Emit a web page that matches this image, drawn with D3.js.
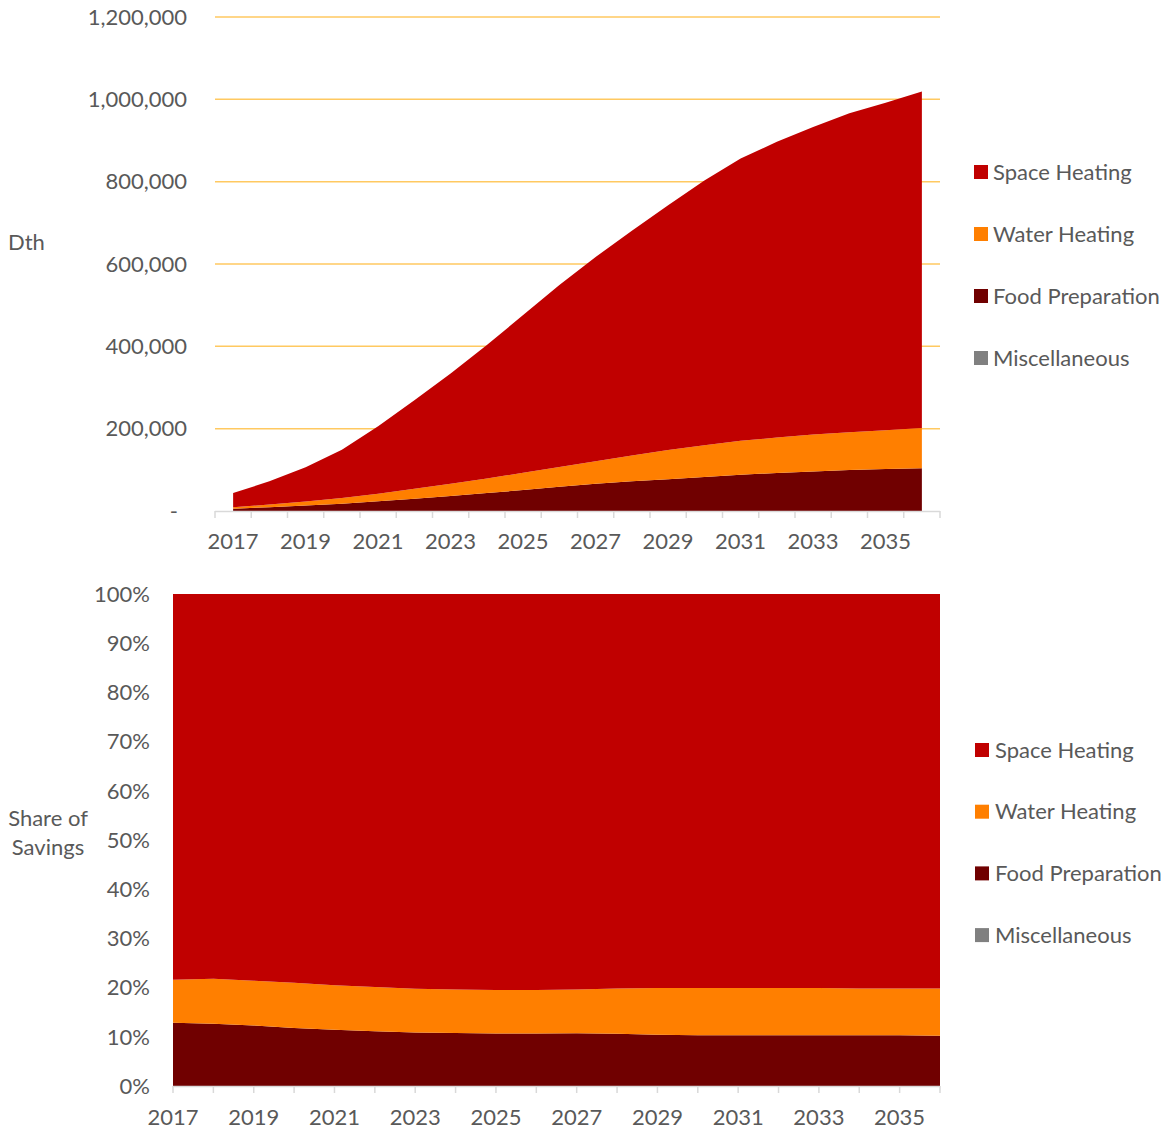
<!DOCTYPE html>
<html>
<head>
<meta charset="utf-8">
<script src="https://cdn.jsdelivr.net/npm/d3@7"></script>
<style>
  html, body { margin: 0; padding: 0; background: #ffffff; }
  svg text { font-family: Lato, "Open Sans", sans-serif; fill: #595959; }
</style>
</head>
<body>
<svg id="chart" width="1170" height="1130"></svg>
<script>
// ---- data ----
const years = ["2017","2018","2019","2020","2021","2022","2023","2024","2025","2026",
               "2027","2028","2029","2030","2031","2032","2033","2034","2035","2036"];
const foodPreparation = [5600, 9100, 13100, 17600, 23500, 29900, 36400, 43500, 50900, 58700,
                         66000, 72200, 77300, 82700, 88200, 92400, 96100, 99500, 102200, 103900];
const waterHeating    = [3800, 6600, 9700, 13700, 18700, 24200, 29700, 35500, 41900, 48300,
                         54900, 62700, 70600, 77100, 82200, 86100, 89600, 91800, 94200, 97800];
const spaceHeating    = [34100, 56300, 83700, 117700, 163800, 214900, 267900, 324000, 383200, 442000,
                         496100, 546100, 595100, 643200, 685600, 718500, 747300, 774700, 795600, 817300];
const miscellaneous   = [0, 0, 0, 0, 0, 0, 0, 0, 0, 0, 0, 0, 0, 0, 0, 0, 0, 0, 0, 0];

const seriesNames = ["Space Heating", "Water Heating", "Food Preparation", "Miscellaneous"];
const stackKeys = ["Food Preparation", "Water Heating", "Space Heating", "Miscellaneous"];
const yTicksTop = [0, 200000, 400000, 600000, 800000, 1000000, 1200000];
const yTicksBottom = [0, 0.1, 0.2, 0.3, 0.4, 0.5, 0.6, 0.7, 0.8, 0.9, 1.0];
const labelYears = ["2017","2019","2021","2023","2025","2027","2029","2031","2033","2035"];

const colors = {
  "Space Heating": "#C00000",
  "Water Heating": "#FF7F00",
  "Food Preparation": "#700000",
  "Miscellaneous": "#808080"
};

const table = years.map((y, i) => ({
  year: y,
  "Food Preparation": foodPreparation[i],
  "Water Heating": waterHeating[i],
  "Space Heating": spaceHeating[i],
  "Miscellaneous": miscellaneous[i]
}));

const svg = d3.select("#chart");
const FS = 22;
const axisColor = "#d9d9d9";

// ================= TOP CHART =================
const T = { left: 215, right: 940, top: 17, bottom: 511 };
const xTop = d3.scaleBand().domain(years).range([T.left, T.right]).paddingInner(0).paddingOuter(0);
const yTop = d3.scaleLinear().domain([0, 1200000]).range([T.bottom, T.top]);

const gTop = svg.append("g");
gTop.selectAll("line.grid").data(yTicksTop.filter(d => d > 0)).enter().append("line")
  .attr("x1", T.left).attr("x2", T.right)
  .attr("y1", d => yTop(d)).attr("y2", d => yTop(d))
  .attr("stroke", "#FFC961").attr("stroke-width", 1.5);

const stackTop = d3.stack().keys(stackKeys)(table);
const areaTop = d3.area()
  .x(d => xTop(d.data.year) + xTop.bandwidth() / 2)
  .y0(d => yTop(d[0])).y1(d => yTop(d[1]));
gTop.selectAll("path.layer").data(stackTop).enter().append("path")
  .attr("d", areaTop).attr("fill", d => colors[d.key]);

gTop.append("line").attr("x1", T.left).attr("x2", T.right)
  .attr("y1", T.bottom + 0.5).attr("y2", T.bottom + 0.5)
  .attr("stroke", axisColor).attr("stroke-width", 1.5);
const boundaries = years.map(y => xTop(y)).concat([T.right]);
gTop.selectAll("line.tick").data(boundaries).enter().append("line")
  .attr("x1", d => d).attr("x2", d => d)
  .attr("y1", T.bottom).attr("y2", T.bottom + 7)
  .attr("stroke", axisColor).attr("stroke-width", 1.5);
gTop.selectAll("text.xl").data(labelYears).enter().append("text")
  .attr("x", d => xTop(d) + xTop.bandwidth() / 2)
  .attr("y", 541).attr("dy", "0.35em")
  .attr("text-anchor", "middle").attr("font-size", FS)
  .text(d => d);
gTop.selectAll("text.yl").data(yTicksTop).enter().append("text")
  .attr("x", d => d === 0 ? 178 : 187)
  .attr("y", d => yTop(d)).attr("dy", "0.35em")
  .attr("text-anchor", "end").attr("font-size", FS)
  .text(d => d === 0 ? "-" : d3.format(",")(d));
gTop.append("text").attr("x", 8).attr("y", 242).attr("dy", "0.35em")
  .attr("font-size", FS).text("Dth");

const legTop = gTop.selectAll("g.leg").data(seriesNames).enter().append("g")
  .attr("transform", (d, i) => `translate(974, ${172 + i * 62})`);
legTop.append("rect").attr("x", 0).attr("y", -7).attr("width", 14).attr("height", 14)
  .attr("fill", d => colors[d]);
legTop.append("text").attr("x", 19).attr("y", 0).attr("dy", "0.35em")
  .attr("font-size", FS).text(d => d);

// ================= BOTTOM CHART =================
const B = { left: 173, right: 940, top: 594, bottom: 1086 };
const xBot = d3.scalePoint().domain(years).range([B.left, B.right]).padding(0);
const yBot = d3.scaleLinear().domain([0, 1]).range([B.bottom, B.top]);

const gBot = svg.append("g");
const stackBot = d3.stack().keys(stackKeys).offset(d3.stackOffsetExpand)(table);
const areaBot = d3.area()
  .x(d => xBot(d.data.year))
  .y0(d => yBot(d[0])).y1(d => yBot(d[1]));
gBot.selectAll("path.layer").data(stackBot).enter().append("path")
  .attr("d", areaBot).attr("fill", d => colors[d.key]);

gBot.append("line").attr("x1", B.left).attr("x2", B.right)
  .attr("y1", B.bottom + 0.5).attr("y2", B.bottom + 0.5)
  .attr("stroke", axisColor).attr("stroke-width", 1.5);
gBot.selectAll("line.tick").data(years).enter().append("line")
  .attr("x1", d => xBot(d)).attr("x2", d => xBot(d))
  .attr("y1", B.bottom).attr("y2", B.bottom + 7)
  .attr("stroke", axisColor).attr("stroke-width", 1.5);
gBot.selectAll("text.xl").data(labelYears).enter().append("text")
  .attr("x", d => xBot(d)).attr("y", 1117).attr("dy", "0.35em")
  .attr("text-anchor", "middle").attr("font-size", FS)
  .text(d => d);
gBot.selectAll("text.yl").data(yTicksBottom).enter().append("text")
  .attr("x", 150).attr("y", d => yBot(d)).attr("dy", "0.35em")
  .attr("text-anchor", "end").attr("font-size", FS)
  .text(d => d3.format(".0%")(d));
const yTitle = gBot.append("text").attr("x", 48).attr("y", 818)
  .attr("text-anchor", "middle").attr("font-size", FS);
yTitle.append("tspan").attr("x", 48).attr("dy", "0.35em").text("Share of");
yTitle.append("tspan").attr("x", 48).attr("dy", "1.35em").text("Savings");

const legBot = gBot.selectAll("g.leg").data(seriesNames).enter().append("g")
  .attr("transform", (d, i) => `translate(975, ${750 + i * 61.7})`);
legBot.append("rect").attr("x", 0).attr("y", -7).attr("width", 14).attr("height", 14)
  .attr("fill", d => colors[d]);
legBot.append("text").attr("x", 20).attr("y", 0).attr("dy", "0.35em")
  .attr("font-size", FS).text(d => d);
</script>
</body>
</html>
